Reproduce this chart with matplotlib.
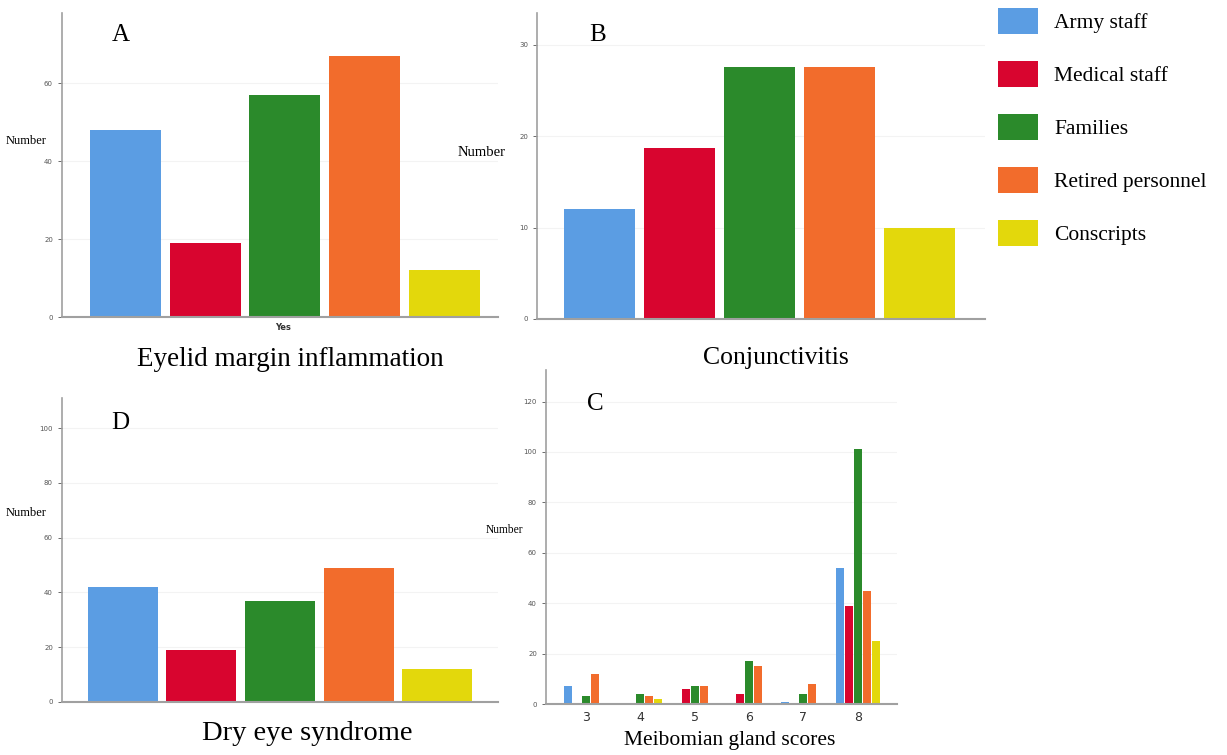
import matplotlib.pyplot as plt
import numpy as np
from matplotlib.patches import Patch

plt.rcParams['font.family'] = ['Liberation Serif', 'DejaVu Serif']

groups = ["Army staff", "Medical staff", "Families", "Retired personnel", "Conscripts"]
colors = ["#5b9de3", "#d8052f", "#2b8a2b", "#f26c2c", "#e3d80c"]

# panel values, one bar per group
eyelid = [48, 19, 57, 67, 12]
conjunctivitis = [12, 18.7, 27.6, 27.6, 10]
dry_eye = [42, 19, 37, 49, 12]

# meibomian gland scores, counts per score for each group
scores = [3, 4, 5, 6, 7, 8]
meibomian = {
    "Army staff":        [7, 0, 0, 0, 1, 54],
    "Medical staff":     [0, 0, 6, 4, 0, 39],
    "Families":          [3, 4, 7, 17, 4, 101],
    "Retired personnel": [12, 3, 7, 15, 8, 45],
    "Conscripts":        [0, 2, 0, 0, 0, 25],
}

fig = plt.figure(figsize=(12.27, 7.55), dpi=100)


def style_axis(ax, yticks, ymax):
    ax.set_ylim(0, ymax)
    ax.set_yticks(yticks)
    ax.tick_params(axis='y', labelsize=5, colors='#555555', length=3, width=0.6)
    for lab in ax.get_yticklabels():
        lab.set_fontfamily('DejaVu Sans')
    ax.spines['top'].set_visible(False)
    ax.spines['right'].set_visible(False)
    ax.spines['left'].set_color('#a0a0a0')
    ax.spines['bottom'].set_color('#a0a0a0')
    ax.spines['left'].set_linewidth(1.2)
    ax.spines['bottom'].set_linewidth(1.5)
    ax.yaxis.grid(True, color='#f3f3f3', linewidth=0.8)
    ax.set_axisbelow(True)


def single_panel(rect, values, yticks, ymax, xlim, letter, lpos):
    ax = fig.add_axes(rect)
    ax.bar(np.arange(len(values)), values, width=0.89, color=colors)
    ax.set_xlim(*xlim)
    ax.set_xticks([])
    style_axis(ax, yticks, ymax)
    ax.text(lpos[0], lpos[1], letter, transform=ax.transAxes, fontsize=18,
            ha='center', va='center')
    return ax


axA = single_panel([0.0505, 0.580, 0.3553, 0.4026], eyelid, [0, 20, 40, 60], 78,
                   (-0.796, 4.67), "A", (0.135, 0.928))
axB = single_panel([0.4377, 0.5775, 0.3651, 0.4053], conjunctivitis, [0, 10, 20, 30], 33.5,
                   (-0.78, 4.82), "B", (0.136, 0.928))
axD = single_panel([0.0505, 0.0702, 0.3553, 0.4026], dry_eye, [0, 20, 40, 60, 80, 100], 111,
                   (-0.77, 4.77), "D", (0.133, 0.918))

# panel C: grouped bars
axC = fig.add_axes([0.445, 0.0675, 0.286, 0.4424])
x = np.array(scores)
pitch = 0.165
for i, g in enumerate(groups):
    axC.bar(x + (i - 2) * pitch, meibomian[g], width=0.147, color=colors[i])
axC.set_xlim(2.265, 8.72)
axC.set_xticks(scores)
axC.tick_params(axis='x', labelsize=9, length=0, pad=5, colors='#333333')
style_axis(axC, [0, 20, 40, 60, 80, 100, 120], 132.5)
for lab in axC.get_xticklabels():
    lab.set_fontfamily('DejaVu Sans')
axC.text(0.14, 0.898, "C", transform=axC.transAxes, fontsize=18, ha='center', va='center')

# y labels "Number"
fig.text(6 / 1227, 1 - 141 / 755, "Number", fontsize=9, va='center')
fig.text(458 / 1227, 1 - 153 / 755, "Number", fontsize=10.5, va='center')
fig.text(6 / 1227, 1 - 513 / 755, "Number", fontsize=9, va='center')
fig.text(486 / 1227, 1 - 530 / 755, "Number", fontsize=8.3, va='center')

fig.text(283 / 1227, 1 - 328 / 755, "Yes", fontsize=6, fontweight='bold',
         family='DejaVu Sans', ha='center', va='center', color='#333333')

# panel titles below the axes
fig.text(290 / 1227, 1 - 360 / 755, "Eyelid margin inflammation", fontsize=19.5,
         ha='center', va='center')
fig.text(776 / 1227, 1 - 358 / 755, "Conjunctivitis", fontsize=18.5, ha='center', va='center')
fig.text(307 / 1227, 1 - 733 / 755, "Dry eye syndrome", fontsize=20.5, ha='center', va='center')
fig.text(730 / 1227, 1 - 740 / 755, "Meibomian gland scores", fontsize=15.5,
         ha='center', va='center')

handles = [Patch(facecolor=c, label=g) for g, c in zip(groups, colors)]
fig.legend(handles=handles, loc='upper left', bbox_to_anchor=(998 / 1227, 1 - 8 / 755),
           frameon=False, fontsize=15.5, handlelength=1.85, handleheight=1.45,
           labelspacing=1.28, handletextpad=0.75, borderpad=0, borderaxespad=0)

fig.savefig("out.png", dpi=100)
